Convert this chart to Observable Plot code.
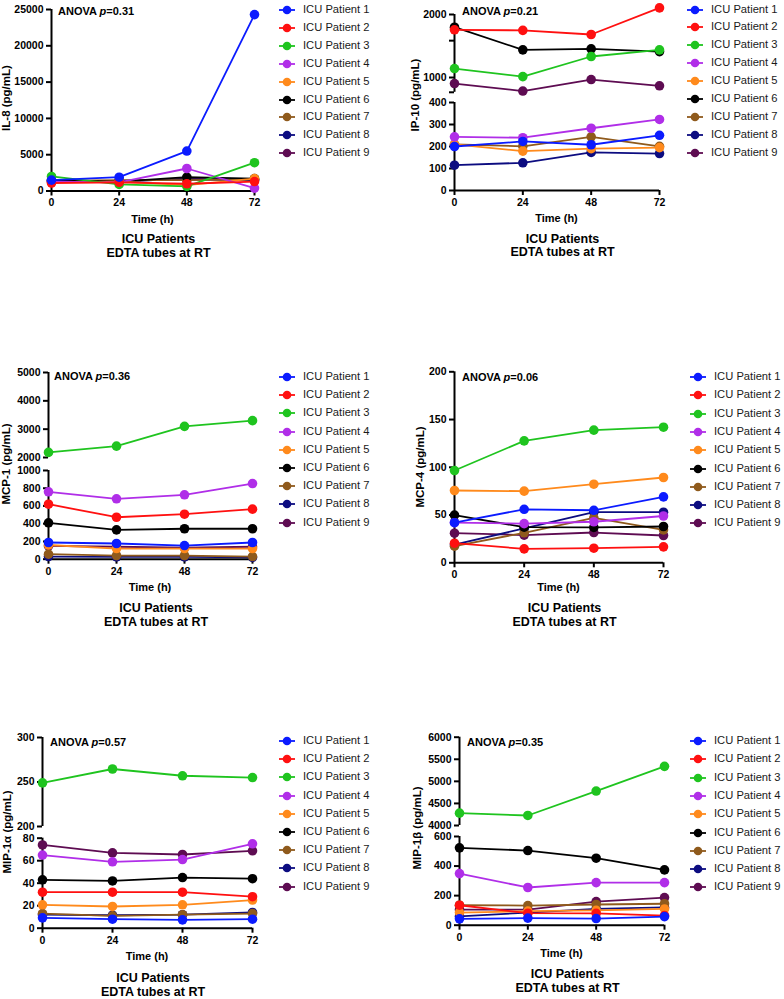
<!DOCTYPE html>
<html><head><meta charset="utf-8">
<script src="https://cdn.jsdelivr.net/npm/d3@7"></script>
<script src="https://cdn.jsdelivr.net/npm/@observablehq/plot@0.6"></script>
<style>
body{margin:0;background:#fff;font-family:"Liberation Sans",Arial,sans-serif;}
#root{position:relative;width:784px;height:999px;overflow:hidden;background:#fff;}
#root svg.seg{position:absolute;left:0;top:0;overflow:visible;}
.t{position:absolute;white-space:nowrap;font-weight:bold;color:#000;line-height:1;}
.lg{position:absolute;white-space:nowrap;font-size:11px;color:#1a1a1a;line-height:1;}
</style></head><body><div id="root"></div>
<script>
const times = [0, 24, 48, 72];
const patients = ["ICU Patient 1","ICU Patient 2","ICU Patient 3","ICU Patient 4","ICU Patient 5","ICU Patient 6","ICU Patient 7","ICU Patient 8","ICU Patient 9"];
const colors = ["#0b1bff","#ff1010","#1fc41f","#b02ee8","#ff8a1c","#000000","#8f5a1c","#0c0c80","#5e0c52"];

const il8 = [
  [1500, 1900, 5500, 24300],
  [1100, 1200, 1000, 1300],
  [2000, 900, 650, 3900],
  [1300, 1200, 3100, 400],
  [1200, 1300, 800, 1700],
  [1500, 1300, 1900, 1700],
  [1400, 1500, 1500, 1600],
  [1300, 1400, 1600, 1500],
  [1400, 1300, 1700, 1500]
];
const ip10 = [
  [200, 223, 208, 251],
  [1690, 1680, 1605, 2150],
  [1104, 1010, 1260, 1356],
  [244, 240, 283, 323],
  [210, 179, 190, 195],
  [1739, 1356, 1370, 1330],
  [210, 201, 244, 201],
  [115, 126, 173, 168],
  [936, 862, 978, 913]
];
const mcp1 = [
  [188, 177, 154, 188],
  [620, 473, 507, 564],
  [2180, 2400, 3100, 3300],
  [760, 681, 726, 853],
  [160, 120, 120, 120],
  [410, 331, 343, 343],
  [56, 40, 40, 30],
  [30, 25, 25, 20],
  [150, 140, 130, 140]
];
const mcp4 = [
  [42, 56, 55, 69],
  [20.5, 14.6, 15.3, 16.7],
  [96.6, 127.7, 138.9, 142],
  [42, 41, 43, 49],
  [75.7, 75, 82.3, 89.3],
  [49.9, 37.3, 37, 38],
  [17.4, 31.4, 47, 34.5],
  [19, 36, 53, 53],
  [31, 29, 31.7, 28.6]
];
const mip1a = [
  [9.2, 8, 7.4, 8],
  [32, 32, 32, 28],
  [249, 264.6, 257, 255],
  [65, 59, 61, 75],
  [20.8, 19.3, 20.8, 25],
  [43, 42, 45, 44],
  [13, 11, 12, 13],
  [12, 11.5, 12, 14],
  [74, 67, 65.5, 68.8]
];
const mip1b = [
  [43, 48, 45, 58],
  [135, 81, 80, 65],
  [4280, 4227, 4780, 5340],
  [349, 255, 288, 288],
  [85, 95, 100, 110],
  [523, 505, 453, 374],
  [135, 133, 140, 145],
  [60, 85, 110, 120],
  [105, 105, 160, 187]
];
const yTitles = ["IL-8 (pg/mL)", "IP-10 (pg/mL)", "MCP-1 (pg/mL)", "MCP-4 (pg/mL)", "MIP-1α (pg/mL)", "MIP-1β (pg/mL)"];
const pValues = ["0.31", "0.21", "0.36", "0.06", "0.57", "0.35"];

const root = document.getElementById("root");
const FONT = "'Liberation Sans', Arial, sans-serif";

function label(html, x, y, size, cls, tf) {
  const d = document.createElement("div");
  d.className = cls || "t";
  d.innerHTML = html;
  d.style.left = x + "px";
  d.style.top = y + "px";
  d.style.fontSize = size + "px";
  d.style.transform = tf || "translate(-50%,-50%)";
  root.appendChild(d);
}

function panel(cfg) {
  const rows = [];
  cfg.values.forEach((vals, i) => vals.forEach((v, j) => rows.push({patient: patients[i], idx: i, time: times[j], value: v})));
  const nSeg = cfg.segments.length;
  const lowerMax = cfg.segments[nSeg - 1].domain[1];
  const segOf = i => (nSeg > 1 && Math.max(...cfg.values[i]) > lowerMax) ? 0 : nSeg - 1;
  cfg.segments.forEach((seg, si) => {
    const isBottom = si === nSeg - 1;
    const mb = isBottom ? 30 : 2;
    const marks = [];
    marks.push(Plot.ruleX([0], {strokeWidth: 2}));
    if (isBottom) marks.push(Plot.ruleY([seg.domain[0]], {strokeWidth: 2}));
    marks.push(Plot.axisY({ticks: seg.ticks, tickSize: 5, tickPadding: 3, fontSize: 10.5, fontWeight: "bold", strokeWidth: 2, label: null, tickFormat: d => String(d)}));
    if (seg.minor) marks.push(Plot.axisY({ticks: seg.minor, tickSize: 5, strokeWidth: 2, label: null, tickFormat: () => ""}));
    if (isBottom) marks.push(Plot.axisX({ticks: times, tickSize: 5, tickPadding: 3, fontSize: 10.5, fontWeight: "bold", strokeWidth: 2, label: null}));
    for (let i = 8; i >= 0; i--) {
      if (segOf(i) !== si) continue;
      const d = rows.filter(r => r.idx === i);
      marks.push(Plot.line(d, {x: "time", y: "value", stroke: colors[i], strokeWidth: 1.8}));
      marks.push(Plot.dot(d, {x: "time", y: "value", fill: colors[i], r: 4.8}));
    }
    const svg = Plot.plot({
      width: cfg.x72 + 12,
      height: seg.bottom + mb,
      marginLeft: cfg.x0,
      marginRight: 12,
      marginTop: seg.top,
      marginBottom: mb,
      x: {domain: [0, 72], axis: isBottom ? undefined : null},
      y: {type: seg.type || "linear", domain: seg.domain},
      style: {background: "transparent", overflow: "visible", fontFamily: FONT, fontWeight: "bold", color: "#000"},
      marks
    });
    svg.classList.add("seg");
    root.appendChild(svg);
  });
  label(yTitles[cfg.k], cfg.yt[0], cfg.yt[1], 11.5, "t", "translate(-50%,-50%) rotate(-90deg)");
  label("ANOVA <i>p</i>=" + pValues[cfg.k], cfg.an[0], cfg.an[1], 11, "t", "translate(0,-50%)");
  label("Time (h)", (cfg.x0 + cfg.x72) / 2, cfg.tt[0], 11);
  label("ICU Patients", (cfg.x0 + cfg.x72) / 2 + 6, cfg.tt[1], 12.5);
  label("EDTA tubes at RT", (cfg.x0 + cfg.x72) / 2 + 6, cfg.tt[2], 12.5);
  patients.forEach((p, i) => {
    const y = cfg.lg[1] + i * cfg.lg[2];
    const s = document.createElementNS("http://www.w3.org/2000/svg", "svg");
    s.setAttribute("width", 18); s.setAttribute("height", 10);
    s.style.position = "absolute"; s.style.left = (cfg.lg[0] - 9) + "px"; s.style.top = (y - 5) + "px";
    s.innerHTML = `<line x1="1" x2="17" y1="5" y2="5" stroke="${colors[i]}" stroke-width="1.8"/><circle cx="9" cy="5" r="4.3" fill="${colors[i]}"/>`;
    root.appendChild(s);
    label(p, cfg.lg[0] + 16, y, 11.2, "lg", "translate(0,-50%)");
  });
}

panel({k: 0, values: il8, x0: 51, x72: 254,
  segments: [{domain: [0, 25000], top: 9, bottom: 190.5, ticks: [0, 5000, 10000, 15000, 20000, 25000]}],
  yt: [7, 98], an: [58, 11], tt: [219, 239, 253], lg: [287, 10, 17.9]});
panel({k: 1, values: ip10, x0: 454, x72: 659,
  segments: [
    {domain: [850, 2000], type: "log", top: 14, bottom: 91.8, ticks: [1000, 2000], minor: [850, 1500]},
    {domain: [0, 400], top: 102, bottom: 190, ticks: [0, 100, 200, 300, 400]}],
  yt: [416, 95], an: [462, 11], tt: [218, 239, 252], lg: [695, 9.5, 17.9]});
panel({k: 2, values: mcp1, x0: 48, x72: 252,
  segments: [
    {domain: [2000, 5000], top: 372, bottom: 457, ticks: [2000, 3000, 4000, 5000]},
    {domain: [0, 1000], top: 470, bottom: 558.7, ticks: [0, 200, 400, 600, 800, 1000]}],
  yt: [7, 464], an: [54, 376], tt: [587, 608, 622], lg: [287, 377, 18.2]});
panel({k: 3, values: mcp4, x0: 454, x72: 663,
  segments: [{domain: [0, 200], top: 371.3, bottom: 562.3, ticks: [0, 50, 100, 150, 200]}],
  yt: [421, 467], an: [462, 377], tt: [587, 608, 622], lg: [698, 377, 18.3]});
panel({k: 4, values: mip1a, x0: 42, x72: 252,
  segments: [
    {domain: [200, 300], top: 737, bottom: 826, ticks: [200, 250, 300]},
    {domain: [0, 80], top: 837.7, bottom: 927.7, ticks: [0, 20, 40, 60, 80]}],
  yt: [8, 832], an: [50, 742], tt: [956, 978, 992], lg: [287, 741, 18.2]});
panel({k: 5, values: mip1b, x0: 459, x72: 664,
  segments: [
    {domain: [4000, 6000], top: 736.7, bottom: 825, ticks: [4000, 4500, 5000, 5500, 6000]},
    {domain: [0, 600], top: 836, bottom: 924.7, ticks: [0, 200, 400, 600]}],
  yt: [418, 828], an: [467, 742], tt: [953, 974, 988], lg: [698, 741, 18.3]});
</script></body></html>
